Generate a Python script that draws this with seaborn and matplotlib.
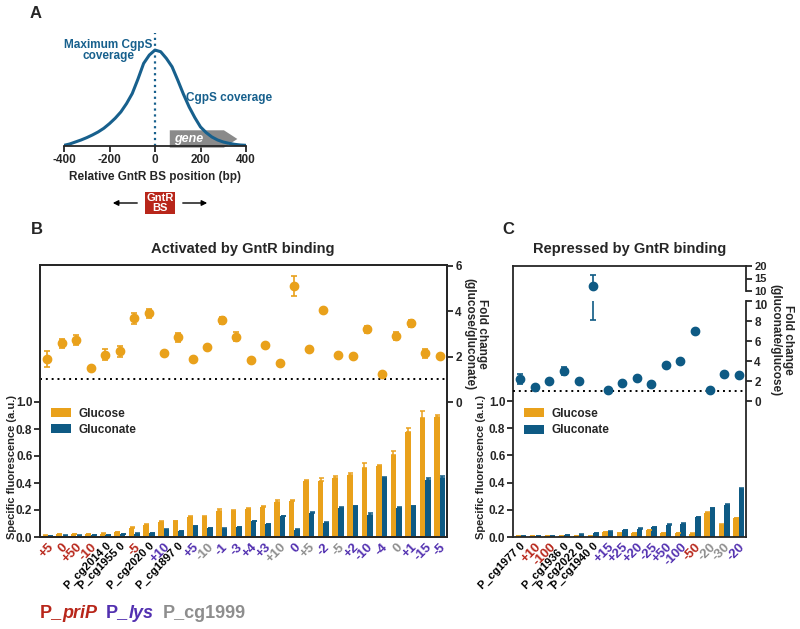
import numpy as np
import pandas as pd
import matplotlib
matplotlib.use("Agg")
import matplotlib.pyplot as plt
import seaborn as sns
from matplotlib.patches import Polygon
from matplotlib.transforms import ScaledTranslation

sns.set_style("ticks")
plt.rcParams['font.family'] = ['Liberation Sans', 'DejaVu Sans']
plt.rcParams['font.weight'] = 'bold'
plt.rcParams['axes.labelweight'] = 'bold'
plt.rcParams['axes.linewidth'] = 1.3
plt.rcParams['axes.unicode_minus'] = False

# colours
GLC = '#E9A11B'
GLN = '#0E5A84'
RED = '#B8261A'
PUR = '#5230B0'
GRY = '#8E8E8E'
BLU = '#17608D'
label_colors = {'priP': RED, 'lys': PUR, 'cg1999': GRY, 'other': 'black'}

# Panel A: CgpS coverage profile around the GntR binding site
cov_pos = [-400, -375, -350, -325, -300, -275, -250, -225, -200, -175, -150, -125, -100,
           -75, -50, -25, 0, 25, 50, 75, 100, 125, 150, 175, 200, 225, 250, 275, 300,
           325, 350, 375, 400]
cov_val = [2, 6, 12, 18, 25, 33, 42, 53, 67, 83, 102, 127, 157,
           200, 247, 272, 287, 282, 262, 237, 197, 155, 117, 85, 57, 40, 27, 18, 12,
           8, 5, 3, 2]

# Panel B: activated by GntR binding
b_labels = ['+5', '0', '+50', '-10', 'P_cg2014 0', 'P_cg1955 0', '-5', 'P_cg2020 0', '+10',
            'P_cg1897 0', '+5', '-10', '-1', '-3', '+4', '+3', '+10', '0', '+5', '-2', '-5',
            '+2', '-10', '-4', '0', '+1', '-15', '-5']
b_groups = ['priP', 'priP', 'priP', 'priP', 'other', 'other', 'priP', 'other', 'lys',
            'other', 'lys', 'cg1999', 'lys', 'lys', 'lys', 'lys', 'cg1999', 'lys', 'cg1999',
            'lys', 'cg1999', 'lys', 'lys', 'lys', 'cg1999', 'lys', 'lys', 'lys']
b_glucose = [0.01, 0.02, 0.02, 0.02, 0.025, 0.035, 0.07, 0.09, 0.11, 0.115, 0.15, 0.15,
             0.195, 0.195, 0.21, 0.225, 0.26, 0.265, 0.415, 0.415, 0.44, 0.46, 0.51, 0.525,
             0.605, 0.775, 0.88, 0.89]
b_glucose_err = [0.002, 0.003, 0.003, 0.003, 0.003, 0.004, 0.005, 0.005, 0.006, 0.005,
                 0.008, 0.006, 0.01, 0.006, 0.006, 0.006, 0.012, 0.006, 0.006, 0.025, 0.01,
                 0.015, 0.04, 0.01, 0.03, 0.03, 0.05, 0.015]
b_gluconate = [0.008, 0.01, 0.01, 0.015, 0.015, 0.02, 0.025, 0.03, 0.055, 0.045, 0.08,
               0.065, 0.06, 0.072, 0.116, 0.094, 0.155, 0.054, 0.18, 0.106, 0.217, 0.227,
               0.165, 0.437, 0.215, 0.227, 0.42, 0.437]
b_gluconate_err = [0.002, 0.002, 0.002, 0.002, 0.002, 0.002, 0.003, 0.003, 0.003, 0.003,
                   0.004, 0.003, 0.003, 0.003, 0.004, 0.003, 0.004, 0.003, 0.004, 0.004,
                   0.004, 0.004, 0.012, 0.005, 0.004, 0.004, 0.015, 0.015]
b_fold = [1.89, 2.6, 2.74, 1.5, 2.09, 2.24, 3.69, 3.91, 2.17, 2.85, 1.89, 2.43, 3.61, 2.88,
          1.84, 2.51, 1.7, 5.12, 2.35, 4.04, 2.06, 2.04, 3.2, 1.22, 2.9, 3.47, 2.14, 2.05]
b_fold_err = [0.35, 0.2, 0.22, 0.1, 0.25, 0.25, 0.25, 0.2, 0.05, 0.2, 0.08, 0.05, 0.15, 0.2,
              0.05, 0.1, 0.05, 0.45, 0.05, 0.1, 0.05, 0.05, 0.15, 0.05, 0.18, 0.15, 0.18, 0.07]

# Panel C: repressed by GntR binding
c_labels = ['P_cg1977 0', '+10', '-100', 'P_cg1936 0', 'P_cg2022 0', 'P_cg1940 0', '+15',
            '+25', '+20', '-25', '+50', '-100', '-50', '-20', '-30', '-20']
c_groups = ['other', 'priP', 'priP', 'other', 'other', 'other', 'lys', 'lys', 'lys', 'lys',
            'lys', 'lys', 'priP', 'cg1999', 'cg1999', 'lys']
c_glucose = [0.005, 0.007, 0.008, 0.008, 0.01, 0.005, 0.035, 0.03, 0.03, 0.048, 0.027,
             0.028, 0.025, 0.18, 0.09, 0.14]
c_glucose_err = [0.001, 0.001, 0.001, 0.001, 0.001, 0.001, 0.002, 0.002, 0.002, 0.003,
                 0.002, 0.002, 0.002, 0.004, 0.003, 0.003]
c_gluconate = [0.008, 0.008, 0.01, 0.015, 0.017, 0.03, 0.04, 0.052, 0.061, 0.074, 0.09,
               0.098, 0.145, 0.21, 0.236, 0.356]
c_gluconate_err = [0.001, 0.001, 0.001, 0.002, 0.002, 0.002, 0.002, 0.003, 0.003, 0.003,
                   0.003, 0.003, 0.003, 0.004, 0.004, 0.006]
c_fold = [2.17, 1.37, 2.0, 2.97, 2.0, 12.2, 1.07, 1.83, 2.33, 1.67, 3.6, 3.97, 7.0, 1.13,
          2.7, 2.6]
c_fold_err = [0.5, 0.05, 0.15, 0.4, 0.05, 4.1, 0.05, 0.05, 0.05, 0.05, 0.1, 0.15, 0.15,
              0.05, 0.05, 0.05]

W, H = 800, 629
fig = plt.figure(figsize=(W / 100, H / 100), dpi=100)


def px_rect(left, top, right, bottom):
    return [left / W, 1 - bottom / H, (right - left) / W, (bottom - top) / H]


# ---------------- Panel A ----------------
axa = fig.add_axes(px_rect(64, 33, 246, 146))
sns.lineplot(x=cov_pos, y=cov_val, color=BLU, lw=2.2, ax=axa)
axa.axvline(0, color=BLU, ls=':', lw=1.6)
axa.add_patch(Polygon([[65, -5], [303, -5], [362, 21], [303, 47], [65, 47]],
                      closed=True, fc='#8A8A8A', ec='none', clip_on=False, zorder=1))
axa.text(150, 21, 'gene', color='white', fontsize=9, style='italic', ha='center', va='center')
axa.text(-206, 285, 'Maximum CgpS\ncoverage', color=BLU, fontsize=8.5, ha='center',
         va='center', linespacing=0.95)
axa.text(138, 145, 'CgpS coverage', color=BLU, fontsize=8.5, ha='left', va='center')
axa.set_xlim(-400, 400)
axa.set_ylim(0, 338)
axa.set_xticks([-400, -200, 0, 200, 400])
axa.set_yticks([])
for s in ['left', 'top', 'right']:
    axa.spines[s].set_visible(False)
axa.tick_params(axis='x', labelsize=8.5, length=4, width=1.3, pad=2)
axa.set_xlabel('Relative GntR BS position (bp)', fontsize=8.5, labelpad=3)

fig.text(160 / W, 1 - 203 / H, 'GntR\nBS', color='white', fontsize=8, ha='center',
         va='center', linespacing=0.9,
         bbox=dict(boxstyle='square,pad=0.15', fc=RED, ec='none'))
for x0, x1 in [(140, 110), (180, 210)]:
    axa.annotate('', xy=(x1 / W, 1 - 203 / H), xytext=(x0 / W, 1 - 203 / H),
                 xycoords='figure fraction', textcoords='figure fraction',
                 annotation_clip=False,
                 arrowprops=dict(arrowstyle='-|>', color='black', lw=1, mutation_scale=8))


# ---------------- Bars (B and C) ----------------
def bar_panel(ax, labels, groups, glc, glc_err, gln, gln_err, top):
    n = len(labels)
    df = pd.DataFrame({'idx': list(range(n)) * 2,
                       'value': glc + gln,
                       'condition': ['Glucose'] * n + ['Gluconate'] * n})
    sns.barplot(data=df, x='idx', y='value', hue='condition', palette=[GLC, GLN],
                width=0.76, gap=0, errorbar=None, saturation=1, linewidth=0, ax=ax)
    for cont, err, col in zip(ax.containers, [glc_err, gln_err], [GLC, GLN]):
        xs = [b.get_x() + b.get_width() / 2 for b in cont]
        hs = [b.get_height() for b in cont]
        ax.errorbar(xs, hs, yerr=[np.zeros(n), err], fmt='none', ecolor=col,
                    elinewidth=1.1, capsize=1.8, capthick=1.1)
    ax.set_xlim(-0.5, n - 0.5)
    ax.set_ylim(0, top)
    ax.set_yticks([0, 0.2, 0.4, 0.6, 0.8, 1.0])
    ax.set_yticklabels(['0.0', '0.2', '0.4', '0.6', '0.8', '1.0'])
    ax.set_xticks(range(n))
    ax.set_xticklabels(labels, rotation=45, ha='right', rotation_mode='anchor')
    for t, g, lab in zip(ax.get_xticklabels(), groups, labels):
        t.set_color(label_colors[g])
        t.set_fontsize(8 if lab.startswith('P_') else 9.5)
    ax.tick_params(axis='x', length=0, pad=3)
    ax.tick_params(axis='y', labelsize=8.5, length=4, width=1.3, pad=1.5)
    ax.set_xlabel('')
    ax.set_ylabel('Specific fluorescence (a.u.)', fontsize=8)
    sns.move_legend(ax, 'upper left', bbox_to_anchor=(0.0, 0.515), frameon=False,
                    title=None, fontsize=8.5, handlelength=1.7, handleheight=0.8,
                    labelspacing=0.35, handletextpad=0.7)


# Panel B
axb = fig.add_axes(px_rect(40, 265, 447, 537))
bar_panel(axb, b_labels, b_groups, b_glucose, b_glucose_err, b_gluconate, b_gluconate_err,
          272 / 135)
axb.yaxis.set_label_coords(-0.056, 0.257)
twb = axb.twinx()
twb.errorbar(range(len(b_fold)), b_fold, yerr=b_fold_err, fmt='o', color=GLC, ms=6,
             capsize=2.5, elinewidth=1.2, capthick=1.2)
twb.axhline(1, color='black', ls=(0, (1, 2)), lw=1.4)
twb.set_ylim(-135 / 22.67, 137 / 22.67)
twb.set_yticks([0, 2, 4, 6])
twb.tick_params(axis='y', labelsize=8.5, length=4, width=1.3, pad=2)
fig.text(476 / W, 1 - 334 / H, 'Fold change\n(glucose/gluconate)', rotation=270,
         ha='center', va='center', fontsize=8.5, linespacing=1.05)

# Panel C
axc = fig.add_axes(px_rect(513, 266, 746, 537))
bar_panel(axc, c_labels, c_groups, c_glucose, c_glucose_err, c_gluconate, c_gluconate_err,
          271 / 136)
axc.yaxis.set_label_coords(-0.114, 0.257)
axc.spines['right'].set_visible(False)

# broken right axis: lower part 0-10, upper part 10-20
lo = fig.add_axes(px_rect(513, 301, 746, 537))
hi = fig.add_axes(px_rect(513, 266, 746, 291))
lo.set_ylim(-13.6, 10)
hi.set_ylim(10, 20)
lo.set_yticks([0, 2, 4, 6, 8, 10])
hi.set_yticks([10, 15, 20])
for a in (lo, hi):
    a.patch.set_visible(False)
    for s in ['left', 'top', 'bottom']:
        a.spines[s].set_visible(False)
    a.errorbar(range(len(c_fold)), c_fold, yerr=c_fold_err, fmt='o', color=GLN, ms=6,
               capsize=2.5, elinewidth=1.2, capthick=1.2)
    a.set_xlim(axc.get_xlim())
    a.yaxis.tick_right()
    a.tick_params(axis='x', bottom=False, labelbottom=False)
    a.tick_params(axis='y', labelsize=8.5, length=4, width=1.3, pad=2)
hi.tick_params(axis='y', labelsize=8)
lo.axhline(1, color='black', ls=(0, (1, 2)), lw=1.4)
fig.text(782 / W, 1 - 340 / H, 'Fold change\n(gluconate/glucose)', rotation=270,
         ha='center', va='center', fontsize=8.5, linespacing=1.05)

# titles and panel letters
fig.text(243 / W, 1 - 249 / H, 'Activated by GntR binding', ha='center', va='center',
         fontsize=10.5)
fig.text(630 / W, 1 - 249 / H, 'Repressed by GntR binding', ha='center', va='center',
         fontsize=10.5)
fig.text(36 / W, 1 - 14 / H, 'A', ha='center', va='center', fontsize=12)
fig.text(37 / W, 1 - 229 / H, 'B', ha='center', va='center', fontsize=12)
fig.text(508 / W, 1 - 229 / H, 'C', ha='center', va='center', fontsize=12)

# promoter colour key: plain "P_" followed by italic name, placed side by side
y_key = 1 - 613 / H
fig.canvas.draw()
r = fig.canvas.get_renderer()
x_px = 40
for parts, col in [([('P_', 'normal'), ('priP', 'italic')], RED),
                   ([('P_', 'normal'), ('lys', 'italic')], PUR),
                   ([('P_cg1999', 'normal')], GRY)]:
    for txt, sty in parts:
        t = fig.text(x_px / W, y_key, txt, color=col, fontsize=13, style=sty, va='center')
        x_px = t.get_window_extent(r).x1
    x_px += 9

# nudge the lower "10" label of the broken axis down so the two "10"s do not collide
lab10 = lo.yaxis.get_major_ticks()[-1].label2
lab10.set_transform(lab10.get_transform()
                    + ScaledTranslation(0, -2.5 / 72, fig.dpi_scale_trans))

fig.savefig('out.png', dpi=100)
